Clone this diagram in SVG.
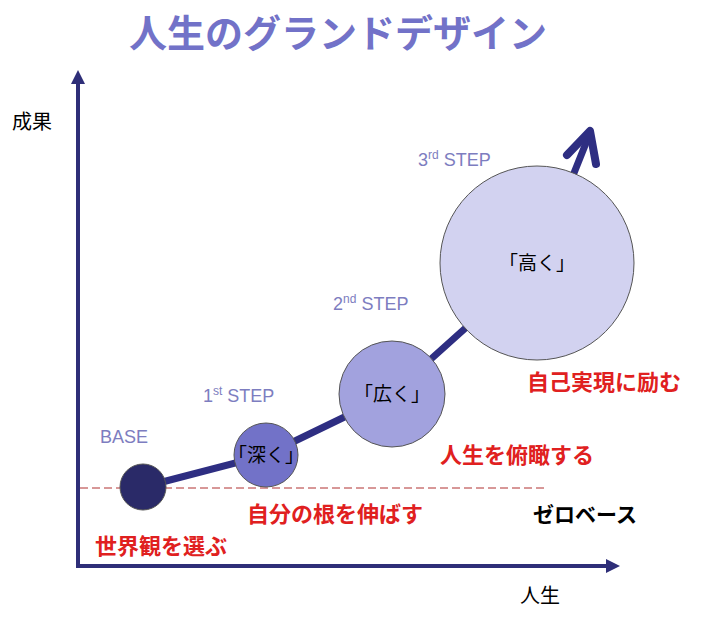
<svg xmlns="http://www.w3.org/2000/svg" width="704" height="623" viewBox="0 0 704 623">
<style>
text{font-family:"Liberation Sans","Noto Sans CJK JP",sans-serif}
.step{fill:#7d7dc0;font-size:18px}
.red{fill:#e02020;font-size:22px;font-weight:bold}
.node{stroke:#555;stroke-width:1}
.lbl{font-size:19px;fill:#000;text-anchor:middle}
</style>
<rect width="704" height="623" fill="#fff"/>
<text x="338" y="47" text-anchor="middle" font-size="38" font-weight="bold" fill="#7272c8">人生のグランドデザイン</text>
<g id="axes" fill="#2e2e78" stroke="#2e2e78">
<line x1="78" y1="566" x2="78" y2="82" stroke-width="4"/>
<polygon points="78,70 71,84 85,84" stroke="none"/>
<line x1="76" y1="566" x2="608" y2="566" stroke-width="4"/>
<polygon points="620,566 606,559 606,573" stroke="none"/>
</g>
<text x="12" y="129" font-size="20">成果</text>
<text x="520" y="603" font-size="20">人生</text>
<line x1="80" y1="488" x2="545" y2="488" stroke="#b03030" stroke-width="1" stroke-dasharray="8,4"/>
<g id="connectors" fill="none" stroke="#2e2e82" stroke-width="7" stroke-linecap="round" stroke-linejoin="round">
<polyline points="143,487 266,455 392,394 538,263 590,133"/>
<polyline points="567,155 590,131 596,164" stroke-width="8"/>
</g>
<g id="base"><circle class="node" cx="143" cy="487" r="23" fill="#2a2a68"/></g>
<g id="fukaku"><circle class="node" cx="266" cy="455" r="32" fill="#7272c8"/><text class="lbl" x="266" y="462">「深く」</text></g>
<g id="hiroku"><circle class="node" cx="392" cy="394" r="53" fill="#a2a2de"/><text class="lbl" x="392" y="401">「広く」</text></g>
<g id="takaku"><circle class="node" cx="537" cy="263" r="97" fill="#d2d2f0"/><text class="lbl" x="537" y="270">「高く」</text></g>
<text class="step" x="100" y="443">BASE</text>
<text class="step" x="203" y="402">1<tspan font-size="12" dy="-7">st</tspan><tspan dy="7"> STEP</tspan></text>
<text class="step" x="333" y="310">2<tspan font-size="12" dy="-7">nd</tspan><tspan dy="7"> STEP</tspan></text>
<text class="step" x="418" y="166">3<tspan font-size="12" dy="-7">rd</tspan><tspan dy="7"> STEP</tspan></text>
<text class="red" x="527" y="390">自己実現に励む</text>
<text class="red" x="440" y="463">人生を俯瞰する</text>
<text class="red" x="247" y="522">自分の根を伸ばす</text>
<text class="red" x="95" y="554">世界観を選ぶ</text>
<text x="533" y="522" font-size="21" font-weight="bold">ゼロベース</text>
</svg>
